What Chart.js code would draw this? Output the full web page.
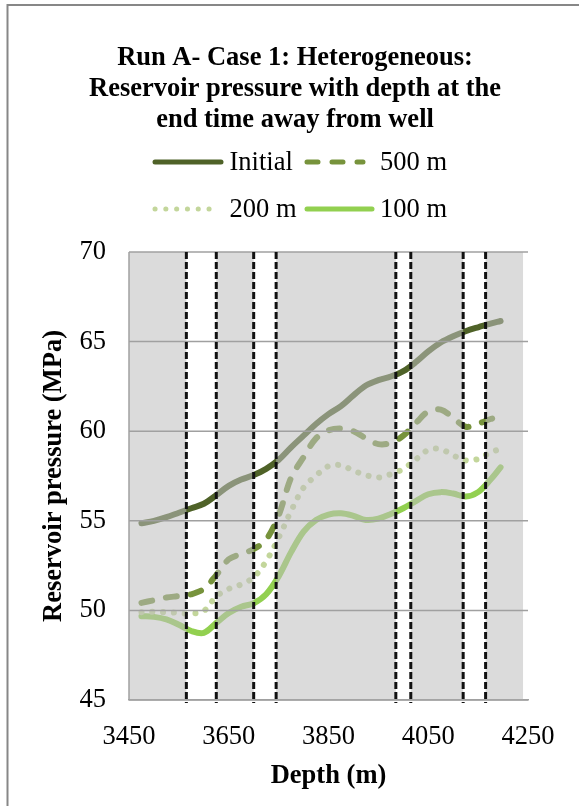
<!DOCTYPE html>
<html>
<head>
<meta charset="utf-8">
<script src="https://cdn.jsdelivr.net/npm/chart.js@4.4.1/dist/chart.umd.min.js"></script>
<style>
  html, body { margin: 0; padding: 0; background: #fff; }
  canvas { display: block; }
</style>
</head>
<body>
<canvas id="chart" width="579" height="806"></canvas>
<script>
const titleLines = ['Run A- Case 1: Heterogeneous:', 'Reservoir pressure with depth at the', 'end time away from well'];
const depth = [3475, 3500, 3525, 3550, 3575, 3600, 3625, 3650, 3675, 3700, 3725, 3750, 3775, 3800, 3825,
  3850, 3875, 3900, 3925, 3950, 3975, 4000, 4025, 4050, 4075, 4100, 4125, 4150, 4175, 4195];
const initial = [54.86, 55.0, 55.2, 55.45, 55.7, 55.95, 56.43, 56.95, 57.3, 57.55, 57.9, 58.4, 59.1, 59.75, 60.4,
  60.95, 61.4, 62.0, 62.55, 62.85, 63.05, 63.35, 63.85, 64.45, 64.95, 65.3, 65.58, 65.8, 66.0, 66.15];
const at500 = [50.42, 50.57, 50.72, 50.8, 50.9, 51.2, 51.97, 52.85, 53.15, 53.42, 53.95, 55.3, 57.4, 58.55, 59.6,
  60.05, 60.15, 60.0, 59.6, 59.28, 59.35, 59.75, 60.45, 61.1, 61.2, 60.75, 60.25, 60.42, 60.68, 60.84];
const at200 = [49.9, 49.92, 49.9, 49.86, 49.82, 49.97, 50.78, 51.2, 51.45, 51.85, 52.75, 54.05, 55.55, 56.85, 57.52,
  58.05, 58.1, 57.8, 57.55, 57.42, 57.6, 57.9, 58.42, 58.95, 59.0, 58.65, 58.37, 58.45, 58.82, 59.01];
const at100 = [49.68, 49.64, 49.5, 49.2, 48.85, 48.75, 49.3, 49.85, 50.2, 50.4, 50.9, 51.9, 53.25, 54.4, 55.05,
  55.35, 55.42, 55.28, 55.05, 55.12, 55.38, 55.7, 56.1, 56.48, 56.6, 56.52, 56.35, 56.6, 57.3, 57.98];
// depth intervals left unshaded, bounded by the dashed lines
const bands = [[3565, 3625], [3700, 3745], [3985, 4015], [4120, 4165]];
const shadeEnd = 4240;

const serif = '"Liberation Serif", "Times New Roman", serif';

const series = [
  {label: 'Initial', values: initial, color: '#4f6228', dash: []},
  {label: '500 m', values: at500, color: '#77933c', dash: [11, 14]},
  {label: '200 m', values: at200, color: '#c3d69b', dash: [0.1, 10.7]},
  {label: '100 m', values: at100, color: '#92d050', dash: []}
];

const shading = {
  id: 'shading',
  beforeDraw(chart) {
    const ctx = chart.ctx;
    ctx.save();
    ctx.strokeStyle = '#878787';
    ctx.lineWidth = 2;
    ctx.strokeRect(7.5, 5, 700, 900);
    ctx.restore();
  },
  afterDatasetsDraw(chart) {
    const {ctx, chartArea: a, scales: {x, y}} = chart;
    ctx.save();
    ctx.fillStyle = 'rgba(190,190,190,0.55)';
    let start = a.left;
    bands.forEach(([b0, b1]) => {
      const p0 = x.getPixelForValue(b0);
      ctx.fillRect(start, a.top, p0 - start, a.bottom - a.top);
      start = x.getPixelForValue(b1);
    });
    ctx.fillRect(start, a.top, x.getPixelForValue(shadeEnd) - start, a.bottom - a.top);

    ctx.strokeStyle = '#a0a0a0';
    ctx.lineWidth = 1.5;
    y.ticks.forEach(t => {
      const py = y.getPixelForValue(t.value);
      ctx.beginPath();
      ctx.moveTo(a.left, py);
      ctx.lineTo(a.right, py);
      ctx.stroke();
    });
    ctx.beginPath();
    ctx.moveTo(a.left, a.top);
    ctx.lineTo(a.left, a.bottom);
    ctx.stroke();

    ctx.strokeStyle = '#111';
    ctx.lineWidth = 3;
    ctx.setLineDash([7, 3]);
    bands.forEach(b => b.forEach(d => {
      const px = x.getPixelForValue(d);
      ctx.beginPath();
      ctx.moveTo(px, a.top);
      ctx.lineTo(px, a.bottom + 3);
      ctx.stroke();
    }));
    ctx.restore();
  },
  afterDraw(chart) {
    const ctx = chart.ctx;
    ctx.save();
    ctx.fillStyle = '#000';
    ctx.textAlign = 'center';
    ctx.textBaseline = 'middle';
    ctx.font = 'bold 26.5px ' + serif;
    titleLines.forEach((t, i) => ctx.fillText(t, 295, 58 + i * 31));

    // legend: two rows of two entries
    const rows = [162, 209];
    const cols = [{x0: 152, tx: 229.5}, {x0: 304, tx: 380}];
    const lens = [72, 62, 64, 71];
    ctx.font = '26.5px ' + serif;
    ctx.textAlign = 'left';
    series.forEach((s, i) => {
      const r = rows[Math.floor(i / 2)];
      const c = cols[i % 2];
      ctx.strokeStyle = s.color;
      ctx.lineWidth = 5;
      ctx.lineCap = 'round';
      ctx.setLineDash(s.dash);
      ctx.beginPath();
      ctx.moveTo(c.x0 + 3, r);
      ctx.lineTo(c.x0 + lens[i] - 3, r);
      ctx.stroke();
      ctx.setLineDash([]);
      ctx.fillText(s.label, c.tx, r + 1);
    });
    ctx.restore();
  }
};

new Chart(document.getElementById('chart'), {
  type: 'line',
  data: {
    datasets: series.map(s => ({
      label: s.label,
      data: depth.map((d, i) => ({x: d, y: s.values[i]})),
      borderColor: s.color,
      borderWidth: 6,
      borderDash: s.dash,
      borderCapStyle: 'round',
      borderJoinStyle: 'round',
      pointRadius: 0,
      tension: 0.35,
      fill: false
    }))
  },
  options: {
    responsive: false,
    devicePixelRatio: 1,
    animation: false,
    layout: {padding: {top: 252, right: 51, left: 0, bottom: 0}},
    plugins: {legend: {display: false}, title: {display: false}, tooltip: {enabled: false}},
    scales: {
      x: {
        type: 'linear',
        min: 3450,
        max: 4250,
        grid: {display: false, drawTicks: false},
        border: {display: true, color: '#a0a0a0', width: 1.5},
        ticks: {stepSize: 200, padding: 21, color: '#000', font: {family: serif, size: 26.5},
          callback: v => String(v)},
        title: {display: true, text: 'Depth (m)', color: '#000', padding: {top: 0, bottom: 14},
          font: {family: serif, size: 26.5, weight: 'bold'}},
        afterFit(scale) { scale.height = 106; }
      },
      y: {
        min: 45,
        max: 70,
        grid: {display: false, drawTicks: false},
        border: {display: false},
        ticks: {stepSize: 5, padding: 23, color: '#000', font: {family: serif, size: 26.5}},
        title: {display: true, text: 'Reservoir pressure (MPa)', color: '#000', padding: {top: 38, bottom: 0},
          font: {family: serif, size: 26.5, weight: 'bold'}},
        afterFit(scale) { scale.width = 129; }
      }
    }
  },
  plugins: [shading]
});
</script>
</body>
</html>
